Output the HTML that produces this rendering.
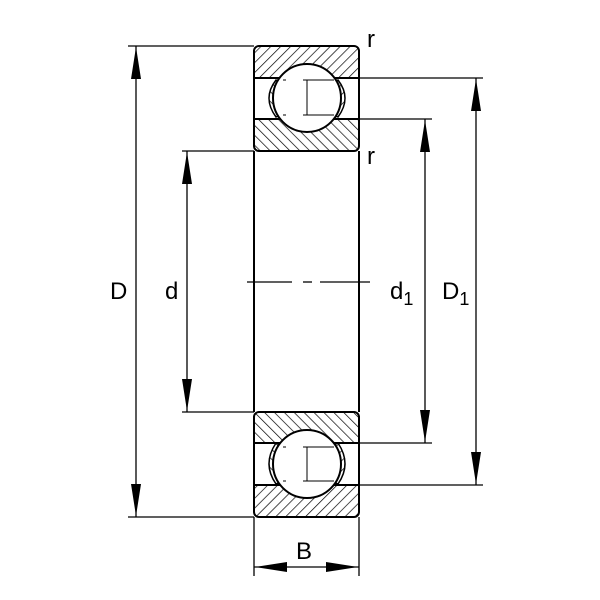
<!DOCTYPE html>
<html><head><style>body{margin:0;background:#fff}svg{display:block}</style></head><body>
<svg width="600" height="600" viewBox="0 0 600 600" xmlns="http://www.w3.org/2000/svg" font-family="Liberation Sans, sans-serif">
<defs>
<pattern id="h1" patternUnits="userSpaceOnUse" width="7" height="7" patternTransform="rotate(45)"><line x1="0" y1="0" x2="0" y2="7" stroke="#000" stroke-width="1.4"/></pattern>
<pattern id="h2" patternUnits="userSpaceOnUse" width="7" height="7" patternTransform="rotate(-45)"><line x1="0" y1="0" x2="0" y2="7" stroke="#000" stroke-width="1.4"/></pattern>
<clipPath id="ct"><rect x="254" y="46" width="105" height="105" rx="5"/></clipPath>
<clipPath id="cb"><rect x="254" y="412" width="105" height="105" rx="5"/></clipPath>
</defs>
<g stroke="#000" fill="none" stroke-width="1.3">
<line x1="128" y1="46" x2="254" y2="46"/><line x1="128" y1="517" x2="254" y2="517"/>
<line x1="182" y1="151" x2="254" y2="151"/><line x1="182" y1="412" x2="254" y2="412"/>
<line x1="359" y1="119" x2="432" y2="119"/><line x1="359" y1="443" x2="432" y2="443"/>
<line x1="359" y1="78" x2="483" y2="78"/><line x1="359" y1="485" x2="483" y2="485"/>
<line x1="254" y1="517" x2="254" y2="576"/><line x1="359" y1="517" x2="359" y2="576"/>
<line x1="136" y1="46" x2="136" y2="517"/>
<line x1="187" y1="151" x2="187" y2="412"/>
<line x1="425" y1="119" x2="425" y2="443"/>
<line x1="476" y1="78" x2="476" y2="485"/>
<line x1="254" y1="567" x2="359" y2="567"/>
<line x1="247" y1="282" x2="292" y2="282"/><line x1="303" y1="282" x2="312" y2="282"/><line x1="320" y1="282" x2="370" y2="282"/>
</g>
<g fill="#000">
<polygon points="136,47 131,79 141,79"/><polygon points="136,516 131,484 141,484"/>
<polygon points="187,152 182,184 192,184"/><polygon points="187,411 182,379 192,379"/>
<polygon points="425,120 420,152 430,152"/><polygon points="425,442 420,410 430,410"/>
<polygon points="476,79 471,111 481,111"/><polygon points="476,484 471,452 481,452"/>
<polygon points="255,567 287,562 287,572"/><polygon points="358,567 326,562 326,572"/>
</g>
<g stroke="#000" stroke-width="2">
<line x1="254" y1="151" x2="254" y2="412"/><line x1="359" y1="151" x2="359" y2="412"/>
</g>
<g clip-path="url(#ct)">
<rect x="254" y="46" width="105" height="32" fill="url(#h1)"/>
<rect x="254" y="119" width="105" height="32" fill="url(#h2)"/>
</g>
<g clip-path="url(#cb)">
<rect x="254" y="412" width="105" height="31" fill="url(#h2)"/>
<rect x="254" y="485" width="105" height="32" fill="url(#h1)"/>
</g>
<g stroke="#000" stroke-width="2" fill="none">
<rect x="254" y="46" width="105" height="105" rx="5"/>
<line x1="254" y1="78" x2="359" y2="78"/><line x1="254" y1="119" x2="359" y2="119"/>
<rect x="254" y="412" width="105" height="105" rx="5"/>
<line x1="254" y1="443" x2="359" y2="443"/><line x1="254" y1="485" x2="359" y2="485"/>
</g>
<g stroke="#000" stroke-width="1.5">
<path d="M276,80 Q262,98 276,117 L281,115 Q270,98 281,82 Z" fill="url(#h2)"/>
<path d="M338,80 Q352,98 338,117 L333,115 Q344,98 333,82 Z" fill="url(#h1)"/>
<circle cx="307" cy="98" r="34" fill="#fff" stroke-width="2"/>
<path d="M276,443 Q262,464 276,484 L281,482 Q270,464 281,445 Z" fill="url(#h2)"/>
<path d="M338,443 Q352,464 338,484 L333,482 Q344,464 333,445 Z" fill="url(#h1)"/>
<circle cx="307" cy="464" r="34" fill="#fff" stroke-width="2"/>
</g>
<g stroke="#000" stroke-width="1">
<line x1="283" y1="80" x2="286" y2="80"/><line x1="303" y1="80" x2="334" y2="80"/><line x1="307" y1="80" x2="307" y2="115"/><line x1="303" y1="115" x2="334" y2="115"/><line x1="283" y1="115" x2="286" y2="115"/>
<line x1="283" y1="447" x2="286" y2="447"/><line x1="303" y1="447" x2="334" y2="447"/><line x1="307" y1="447" x2="307" y2="481"/><line x1="303" y1="481" x2="334" y2="481"/><line x1="283" y1="481" x2="286" y2="481"/>
</g>
<g font-size="24" fill="#000">
<text x="110" y="299">D</text>
<text x="165" y="299">d</text>
<text x="390" y="299">d<tspan font-size="18" dy="6">1</tspan></text>
<text x="442" y="299">D<tspan font-size="18" dy="6">1</tspan></text>
<text x="296" y="559">B</text>
<text x="367" y="47">r</text>
<text x="367" y="164">r</text>
</g>
</svg>
</body></html>
